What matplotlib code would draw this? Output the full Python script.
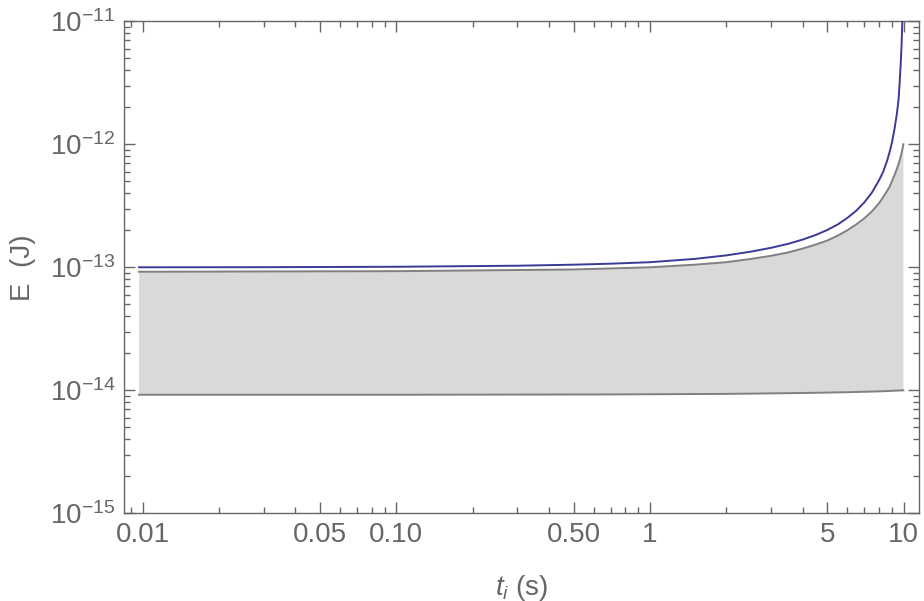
import matplotlib
matplotlib.use('Agg')
import matplotlib.pyplot as plt
import matplotlib.ticker as ticker
import numpy as np

# Valores (t em s, E em J)
t_azul = [0.00967, 0.03, 0.1, 0.3, 0.5, 0.7, 1.0, 1.5, 2.0, 2.5, 3.0, 3.5, 4.0, 4.5,
          5.0, 5.5, 6.0, 6.5, 7.0, 7.5, 8.0, 8.3, 8.6, 8.8, 9.0, 9.2, 9.4, 9.55,
          9.65, 9.75, 9.82, 9.87, 9.91, 9.95]
E_azul = [1.0e-13, 1.002e-13, 1.01e-13, 1.03e-13, 1.05e-13, 1.07e-13, 1.10e-13,
          1.17e-13, 1.25e-13, 1.34e-13, 1.44e-13, 1.55e-13, 1.68e-13, 1.83e-13,
          2.01e-13, 2.23e-13, 2.52e-13, 2.88e-13, 3.37e-13, 4.05e-13, 5.1e-13,
          5.95e-13, 7.3e-13, 8.6e-13, 1.04e-12, 1.32e-12, 1.75e-12, 2.3e-12,
          3.2e-12, 4.7e-12, 6.5e-12, 9.0e-12, 1.3e-11, 1.9e-11]

t_cinza_sup = [0.00967, 0.1, 0.5, 1.0, 1.5, 2.0, 2.5, 3.0, 3.5, 4.0, 4.5, 5.0, 5.5,
               6.0, 6.5, 7.0, 7.5, 8.0, 8.4, 8.8, 9.1, 9.35, 9.55, 9.7, 9.8, 9.9, 9.98]
E_cinza_sup = [9.2e-14, 9.3e-14, 9.6e-14, 1.0e-13, 1.05e-13, 1.10e-13, 1.17e-13,
               1.24e-13, 1.32e-13, 1.42e-13, 1.53e-13, 1.65e-13, 1.81e-13, 2.0e-13,
               2.23e-13, 2.5e-13, 2.85e-13, 3.32e-13, 3.85e-13, 4.5e-13, 5.3e-13,
               6.1e-13, 6.9e-13, 7.7e-13, 8.4e-13, 9.2e-13, 1.0e-12]

t_cinza_inf = [0.00967, 0.1, 0.64, 2.0, 3.9, 6.0, 8.0, 9.98]
E_cinza_inf = [9.2e-15, 9.2e-15, 9.25e-15, 9.35e-15, 9.5e-15, 9.65e-15, 9.8e-15, 1.0e-14]

x_ticks = [0.01, 0.05, 0.10, 0.50, 1, 5, 10]
x_labels = ['0.01', '0.05', '0.10', '0.50', '1', '5', '10']
y_ticks = [1e-15, 1e-14, 1e-13, 1e-12, 1e-11]
y_labels = [r'$10^{-15}$', r'$10^{-14}$', r'$10^{-13}$', r'$10^{-12}$', r'$10^{-11}$']

plt.rcParams['font.family'] = ['Liberation Sans', 'DejaVu Sans']
plt.rcParams['mathtext.fontset'] = 'custom'
plt.rcParams['mathtext.rm'] = 'Liberation Sans'
plt.rcParams['mathtext.it'] = 'Liberation Sans:italic'

cor_eixo = '#666666'

fig = plt.figure(figsize=(9.24, 6.01), dpi=100)
ax = fig.add_axes([0.1337, 0.1459, 0.9949 - 0.1337, 0.9646 - 0.1459])

# Regiao sombreada entre as curvas cinzas
ax.fill(list(t_cinza_sup) + list(t_cinza_inf[::-1]),
        list(E_cinza_sup) + list(E_cinza_inf[::-1]),
        color='#d9d9d9', linewidth=0, zorder=1)
ax.plot(t_cinza_sup, E_cinza_sup, color='#808080', linewidth=1.4, zorder=2)
ax.plot(t_cinza_inf, E_cinza_inf, color='#808080', linewidth=1.4, zorder=2)
ax.plot(t_azul, E_azul, color='#3a3a98', linewidth=1.4, zorder=3)

ax.set_xscale('log')
ax.set_yscale('log')
ax.set_xlim(0.0084, 11.53)
ax.set_ylim(1e-15, 1e-11)

ax.xaxis.set_major_locator(ticker.FixedLocator(x_ticks))
ax.xaxis.set_major_formatter(ticker.FixedFormatter(x_labels))
ax.xaxis.set_minor_locator(ticker.LogLocator(base=10, subs=np.arange(2, 10) * 1.0, numticks=20))
ax.xaxis.set_minor_formatter(ticker.NullFormatter())
ax.yaxis.set_major_locator(ticker.FixedLocator(y_ticks))
ax.yaxis.set_major_formatter(ticker.FixedFormatter(y_labels))
ax.yaxis.set_minor_locator(ticker.LogLocator(base=10, subs=np.arange(2, 10) * 1.0, numticks=20))
ax.yaxis.set_minor_formatter(ticker.NullFormatter())

ax.tick_params(which='both', direction='in', top=True, right=True,
               color=cor_eixo, width=1.0, labelcolor=cor_eixo, labelsize=20)
ax.tick_params(which='major', length=8, pad=6)
ax.tick_params(which='minor', length=4)
for s in ax.spines.values():
    s.set_color(cor_eixo)
    s.set_linewidth(1.0)

ax.set_xlabel(r'$t_i$ (s)', fontsize=20, color=cor_eixo, labelpad=18)
ax.set_ylabel('E  (J)', fontsize=20, color=cor_eixo, labelpad=10)

fig.savefig('out.png', dpi=100)
